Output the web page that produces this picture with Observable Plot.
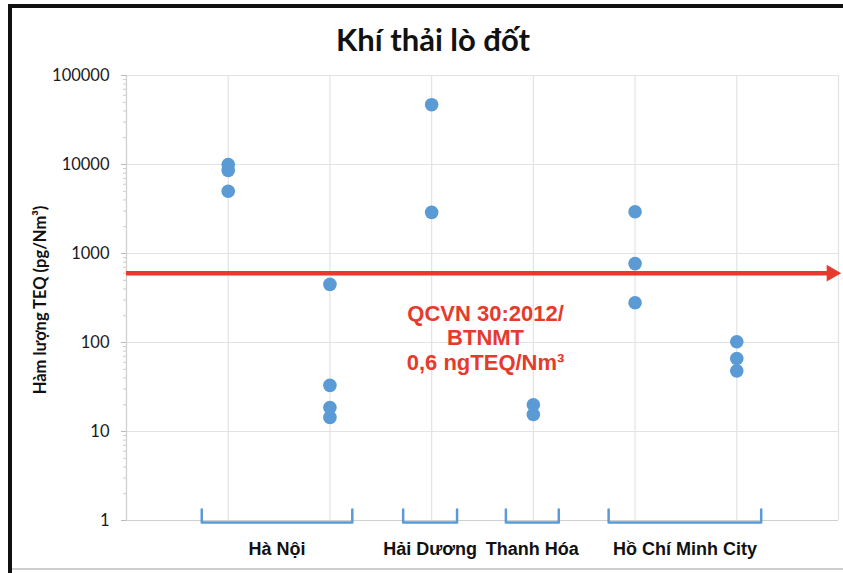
<!DOCTYPE html>
<html>
<head>
<meta charset="utf-8">
<script src="https://cdn.jsdelivr.net/npm/d3@7"></script>
<script src="https://cdn.jsdelivr.net/npm/@observablehq/plot@0.6"></script>
<style>
  html, body { margin: 0; padding: 0; background: #fff; }
  #wrap { position: relative; width: 843px; height: 573px; overflow: hidden; background: #fff; }
  #topbar { position: absolute; left: 8px; top: 4px; width: 835px; height: 4px; background: #111; }
  #leftbar { position: absolute; left: 8px; top: 4px; width: 4px; height: 569px; background: #111; }
  #bottombar { position: absolute; left: 12px; top: 568px; width: 831px; height: 2px; background: #cfcfcf; }
  #title { position: absolute; left: 0; width: 866px; top: 20px; text-align: center;
           font-family: Lato, sans-serif; font-weight: 700; font-size: 31px; color: #111; }
  #ylabel { position: absolute; left: 40px; top: 300px; transform: translate(-50%, -50%) rotate(-90deg);
            white-space: nowrap; font-family: Lato, sans-serif; font-weight: 700; font-size: 16.5px; color: #111; line-height: 1; }
  #chart { position: absolute; left: 0; top: 0; }
</style>
</head>
<body>
<div id="wrap">
  <div id="chart"></div>
  <div id="title">Khí thải lò đốt</div>
  <div id="ylabel">Hàm lượng TEQ (pg/Nm³)</div>
  <div id="topbar"></div>
  <div id="leftbar"></div>
  <div id="bottombar"></div>
</div>
<script>
// Data (x = column position, y = TEQ pg/Nm3)
const pointX = [1, 1, 1, 2, 2, 2, 2, 3, 3, 4, 4, 5, 5, 5, 6, 6, 6];
const pointY = [10000, 8600, 5000, 450, 33, 18.6, 14.4, 47000, 2900, 20, 15.5, 2950, 770, 280, 102, 66, 48];

// Groups along the bottom
const groupNames = ["Hà Nội", "Hải Dương", "Thanh Hóa", "Hồ Chí Minh City"];
const groupStart = [0.74, 2.72, 3.73, 4.74];
const groupEnd = [2.22, 3.25, 4.25, 6.24];

// Limit line
const limitValue = [600];
const limitText = ["QCVN 30:2012/\nBTNMT\n0,6 ngTEQ/Nm³"];
const limitTextPos = [{x: 3.53, y: 114}];

// Axis ticks
const yMajorTicks = [1, 10, 100, 1000, 10000, 100000];
const yMinorTicks = [];
for (const d of [1, 10, 100, 1000, 10000]) for (let k = 2; k <= 9; k++) yMinorTicks.push(d * k);
const xGridTicks = [0, 1, 2, 3, 4, 5, 6, 7];

const points = pointX.map((x, i) => ({x, y: pointY[i]}));
const bracketTop = 1.33, bracketBottom = 0.95, labelY = 0.47;
const brackets = [];
groupNames.forEach((g, i) => {
  brackets.push({g, x: groupStart[i], y: bracketTop});
  brackets.push({g, x: groupStart[i], y: bracketBottom});
  brackets.push({g, x: groupEnd[i], y: bracketBottom});
  brackets.push({g, x: groupEnd[i], y: bracketTop});
});
const groupLabels = groupNames.map((g, i) => ({g, x: (groupStart[i] + groupEnd[i]) / 2, y: labelY}));

const blue = "#5b9bd5";
const red = "#e63a2c";
const grid = "#e3e3e3";

const chart = Plot.plot({
  width: 843,
  height: 573,
  marginLeft: 126,
  marginRight: 5,
  marginTop: 75,
  marginBottom: 53,
  style: {background: "transparent", overflow: "visible", fontSize: "16.5px", fontFamily: "Lato, sans-serif"},
  x: {domain: [0, 7], axis: null},
  y: {type: "log", domain: [1, 100000], axis: null},
  marks: [
    Plot.gridX(xGridTicks, {stroke: grid, strokeOpacity: 1, strokeWidth: 1.2}),
    Plot.gridY(yMajorTicks, {stroke: grid, strokeOpacity: 1, strokeWidth: 1.2}),
    Plot.ruleX([0], {stroke: "#d0d0d0", strokeWidth: 1.2}),
    Plot.ruleY([1], {stroke: "#d0d0d0", strokeWidth: 1.2}),
    Plot.axisY(yMajorTicks, {
      tickSize: 5, tickPadding: 12, stroke: "#bbb", label: null,
      tickFormat: d => String(d),
      fontSize: 16.5, fontFamily: "Lato, sans-serif", fill: "#1a1a1a"
    }),
    Plot.axisY(yMinorTicks, {tickSize: 3, stroke: "#ccc", label: null, tickFormat: () => ""}),
    Plot.ruleY(limitValue, {x1: 0, x2: 6.9, stroke: red, strokeWidth: 4.5}),
    Plot.dot(limitValue, {x: 7, y: d => d, symbol: "triangle2", rotate: 90, r: 8, dx: -7, fill: red, stroke: "none"}),
    Plot.dot(points, {x: "x", y: "y", r: 6.8, fill: blue, stroke: "none"}),
    Plot.text(limitTextPos, {
      x: "x", y: "y", text: () => limitText[0], fill: red, fontSize: 22, fontWeight: "bold",
      fontFamily: "'Liberation Sans', Arial, sans-serif", lineHeight: 1.12, textAnchor: "middle"
    }),
    Plot.line(brackets, {x: "x", y: "y", z: "g", stroke: blue, strokeWidth: 2.5, strokeLinejoin: "round", strokeLinecap: "round"}),
    Plot.text(groupLabels, {
      x: "x", y: "y", text: "g", fill: "#111", fontSize: 18, fontWeight: "bold",
      fontFamily: "'Liberation Sans', Arial, sans-serif"
    })
  ]
});
document.getElementById("chart").append(chart);
</script>
</body>
</html>
